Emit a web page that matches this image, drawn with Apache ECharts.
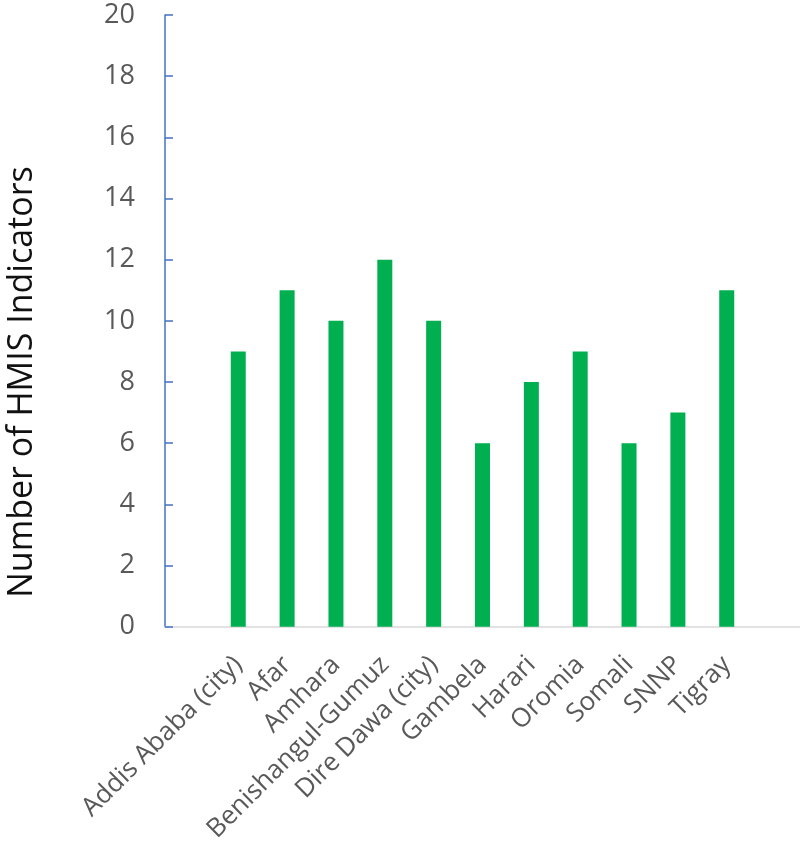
<!DOCTYPE html>
<html>
<head>
<meta charset="utf-8">
<script src="https://cdn.jsdelivr.net/npm/echarts@6/dist/echarts.min.js"></script>
<style>html,body{margin:0;padding:0;background:#fff;}#c{width:800px;height:845px;}</style>
</head>
<body>
<div id="c"></div>
<script>
const categories = ['', 'Addis Ababa (city)', 'Afar', 'Amhara', 'Benishangul-Gumuz', 'Dire Dawa (city)', 'Gambela', 'Harari', 'Oromia', 'Somali', 'SNNP', 'Tigray', ''];
const values = [null, 9, 11, 10, 12, 10, 6, 8, 9, 6, 7, 11, null];
const yTicks = { min: 0, max: 20, interval: 2 };
const yTitle = 'Number of HMIS Indicators';

const chart = echarts.init(document.getElementById('c'), null, { renderer: 'canvas' });
chart.setOption({
  animation: false,
  backgroundColor: '#ffffff',
  textStyle: { fontFamily: 'Open Sans' },
  grid: { left: 165, right: 0, top: 15, bottom: 217, containLabel: false },
  xAxis: {
    type: 'category',
    data: categories,
    axisLine: { lineStyle: { color: '#d9d9d9', width: 1.5 } },
    axisTick: { show: false },
    axisLabel: { rotate: 45, interval: 0, color: '#595959', fontSize: 26, margin: 34, fontFamily: 'Open Sans' }
  },
  yAxis: {
    type: 'value',
    min: yTicks.min, max: yTicks.max, interval: yTicks.interval,
    splitLine: { show: false },
    axisLine: { show: true, lineStyle: { color: '#4472C4', width: 1.5 } },
    axisTick: { show: true, inside: true, length: 8, lineStyle: { color: '#4472C4', width: 1.5 } },
    axisLabel: { color: '#595959', fontSize: 27, margin: 30, fontFamily: 'Open Sans' }
  },
  series: [{
    type: 'bar',
    data: values,
    barWidth: 15,
    itemStyle: { color: '#00B050' }
  }],
  graphic: [{
    type: 'text',
    x: 22, y: 382,
    rotation: Math.PI / 2,
    style: { text: yTitle, fontSize: 34, fontFamily: 'Open Sans', fill: '#111111', align: 'center', verticalAlign: 'middle' }
  }]
});
</script>
</body>
</html>
